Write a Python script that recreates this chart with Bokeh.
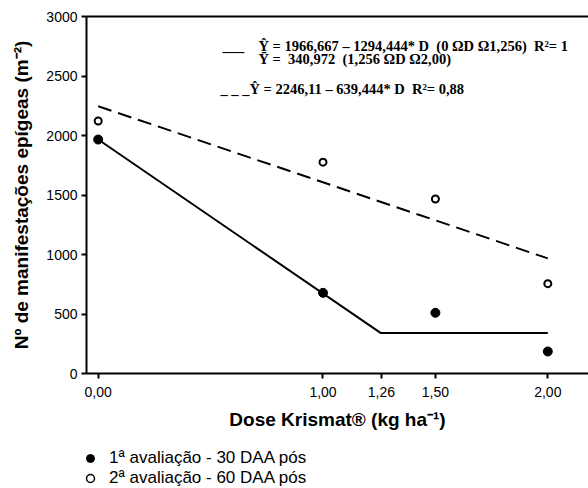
from bokeh.plotting import figure
from bokeh.layouts import column
from bokeh.models import FixedTicker, Range1d, LinearAxis, Label, Legend, LegendItem
from bokeh.embed import file_html
from bokeh.resources import INLINE

# ---- data ----
dose = [0.0, 1.0, 1.5, 2.0]
aval1 = [1966, 678, 510, 185]       # 1ª avaliação - 30 DAA pós
aval2 = [2122, 1776, 1466, 755]     # 2ª avaliação - 60 DAA pós
fit1_x = [0.0, 1.256, 2.0]
fit1_y = [1966.667, 340.972, 340.972]
fit2_x = [0.0, 2.0]
fit2_y = [2246.11, 967.22]
x_ticks = [0.0, 1.0, 1.26, 1.5, 2.0]
x_tick_labels = ["0,00", "1,00", "1,26", "1,50", "2,00"]
y_ticks = [0, 500, 1000, 1500, 2000, 2500, 3000]
legend_labels = ["1ª avaliação - 30 DAA pós", "2ª avaliação - 60 DAA pós"]
NB = "\u00a0"
eq1 = f"Ŷ = 1966,667 – 1294,444* D{NB}{NB}(0 ΩD Ω1,256){NB}{NB}R²= 1"
eq2 = f"Ȳ ={NB}{NB}340,972{NB}{NB}(1,256 ΩD Ω2,00)"
eq3 = f"_ _ _Ŷ = 2246,11 – 639,444* D{NB}{NB}R²= 0,88"

SANS = "Liberation Sans"
SERIF = "Liberation Serif"

p = figure(width=588, height=438, output_backend="svg", toolbar_location=None,
           x_range=Range1d(-0.052, 2.181), y_range=Range1d(0, 3000),
           min_border_left=86, min_border_right=0, min_border_top=16,
           min_border_bottom=65)
p.xgrid.visible = False
p.ygrid.visible = False
p.outline_line_color = None
p.background_fill_color = "white"
p.border_fill_color = "white"

# axes
xa = p.xaxis[0]
xa.ticker = FixedTicker(ticks=x_ticks)
xa.major_label_overrides = {t: l for t, l in zip(x_ticks, x_tick_labels)}
xa.axis_label = "Dose Krismat® (kg ha⁻¹)"
ya = p.yaxis[0]
ya.ticker = FixedTicker(ticks=y_ticks)
ya.axis_label = "Nº de manifestações epígeas (m⁻²)"
for ax in (xa, ya):
    ax.axis_line_width = 2
    ax.axis_line_color = "black"
    ax.major_tick_line_width = 2
    ax.major_tick_line_color = "black"
    ax.major_tick_in = 0
    ax.major_tick_out = 5
    ax.minor_tick_line_color = None
    ax.major_label_text_font = SANS
    ax.major_label_text_font_size = "14px"
    ax.major_label_text_color = "black"
    ax.axis_label_text_font = SANS
    ax.axis_label_text_font_size = "19px"
    ax.axis_label_text_font_style = "bold"
    ax.axis_label_text_color = "black"
xa.major_label_standoff = 8
xa.axis_label_standoff = 9
ya.major_label_standoff = 4
ya.axis_label_standoff = 11

top = LinearAxis(ticker=FixedTicker(ticks=[]), axis_line_width=2,
                 major_tick_line_color=None, minor_tick_line_color=None,
                 major_label_text_font_size="0px")
p.add_layout(top, "above")

# fitted lines
p.line(fit1_x, fit1_y, line_color="black", line_width=2)
p.line(fit2_x, fit2_y, line_color="black", line_width=2, line_dash="14 7")

# points
r1 = p.scatter(dose, aval1, size=9, marker="circle", fill_color="black", line_color="black")
r2 = p.scatter(dose, aval2, size=7, marker="circle", fill_color="white",
               line_color="black", line_width=2)

# equations
for x, y, t in [(0.553, 2756, "___"), (0.713, 2756, eq1), (0.713, 2647, eq2),
                (0.544, 2387, eq3)]:
    p.add_layout(Label(x=x, y=y, text=t, text_font=SERIF, text_font_size="14.5px",
                       text_font_style="bold", text_baseline="middle",
                       text_color="black"))

# legend strip below the chart (its frame is aligned with the chart's frame)
p2 = figure(width=588, height=50, output_backend="svg", toolbar_location=None,
            x_range=Range1d(10, 11), y_range=Range1d(10, 11), min_border=0)
p2.axis.visible = False
p2.xgrid.visible = False
p2.ygrid.visible = False
p2.outline_line_color = None
l1 = p2.scatter(dose, aval1, size=9, marker="circle", fill_color="black", line_color="black")
l2 = p2.scatter(dose, aval2, size=7, marker="circle", fill_color="white",
                line_color="black", line_width=1.5)
legend = Legend(items=[LegendItem(label=legend_labels[0], renderers=[l1]),
                       LegendItem(label=legend_labels[1], renderers=[l2])],
                location=(-6, 0), padding=0, margin=0, spacing=0,
                glyph_width=20, glyph_height=20, label_height=20,
                label_standoff=9, label_text_font=SANS,
                label_text_font_size="17px", label_text_color="black",
                background_fill_alpha=0, border_line_color=None)
p2.add_layout(legend)

open("out.html", "w").write(file_html(column(p, p2, spacing=0), INLINE))
